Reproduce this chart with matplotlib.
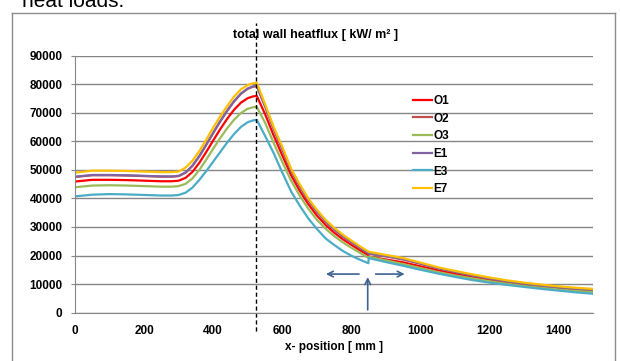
import matplotlib
matplotlib.use("Agg")
import matplotlib.pyplot as plt
from matplotlib.lines import Line2D

plt.rcParams['font.family'] = ['Liberation Sans', 'DejaVu Sans']
plt.rcParams['font.weight'] = 'bold'

# x position [mm]
x_pos = [0, 50, 100, 150, 200, 250, 280, 300, 320, 340, 360, 380, 400, 420, 440, 460, 480, 500, 515, 526,
         550, 575, 600, 625, 650, 675, 700, 725, 750, 775, 800, 825, 849, 850,
         900, 950, 1000, 1050, 1100, 1150, 1200, 1250, 1300, 1350, 1400, 1450, 1500]

# total wall heatflux per case
o1 = [45900, 46500, 46500, 46400, 46200, 46000, 46000, 46200, 47200, 49300, 52500, 56300, 60300, 64200, 67800, 71000, 73500, 75100, 75700, 75900,
      69500, 62000, 55000, 48200, 42700, 38000, 34000, 30700, 28000, 25700, 23700, 21800, 20100, 19600,
      18600, 17600, 16200, 14800, 13600, 12500, 11500, 10600, 9800, 9100, 8500, 8000, 7600]
o2 = [47500, 48100, 48100, 48000, 47800, 47600, 47600, 47800, 49000, 51400, 54800, 58800, 62900, 66900, 70600, 73900, 76600, 78400, 79100, 79300,
      72200, 64300, 57200, 49900, 44300, 39400, 35400, 31900, 29100, 26700, 24600, 22600, 20800, 20600,
      19700, 18600, 17100, 15500, 14200, 13000, 11900, 10900, 10100, 9400, 8800, 8300, 7900]
o3 = [43900, 44500, 44600, 44500, 44300, 44100, 44100, 44300, 45100, 47000, 50000, 53600, 57400, 61100, 64500, 67500, 69900, 71400, 71900, 72100,
      66500, 59400, 52700, 46300, 41000, 36400, 32500, 29400, 26800, 24600, 22700, 20900, 19200, 19600,
      18300, 17000, 15600, 14200, 13000, 12000, 11000, 10100, 9300, 8700, 8100, 7600, 7200]
e1 = [47600, 48200, 48200, 48100, 47900, 47700, 47700, 47900, 49100, 51500, 54900, 58900, 63000, 67000, 70700, 74000, 76700, 78500, 79200, 79400,
      72300, 64400, 57300, 50000, 44400, 39500, 35500, 32000, 29200, 26800, 24700, 22700, 20900, 20700,
      19800, 18700, 17200, 15600, 14300, 13100, 12000, 11000, 10200, 9500, 8900, 8400, 8000]
e3 = [40700, 41300, 41500, 41400, 41200, 41000, 41000, 41200, 42000, 43800, 46500, 49600, 52900, 56200, 59500, 62500, 65000, 66700, 67300, 67500,
      61900, 55800, 49000, 42500, 37500, 33000, 29300, 26000, 23700, 21600, 19900, 18500, 17300, 19100,
      17700, 16400, 15000, 13700, 12500, 11400, 10500, 9700, 9000, 8300, 7700, 7100, 6600]
e7 = [49000, 49700, 49700, 49600, 49400, 49200, 49200, 49400, 50800, 53200, 56600, 60600, 64800, 68700, 72300, 75600, 78200, 79700, 80300, 80500,
      73000, 65000, 58000, 50500, 45000, 40000, 36000, 32500, 29700, 27300, 25200, 23200, 21400, 21300,
      20200, 19100, 17500, 15900, 14600, 13400, 12300, 11300, 10500, 9800, 9200, 8700, 8300]

names = ['O1', 'O2', 'O3', 'E1', 'E3', 'E7']
series = [o1, o2, o3, e1, e3, e7]
colors = ['#FF0000', '#C0504D', '#9BBB59', '#8064A2', '#4BACC6', '#FFC000']

fig = plt.figure(figsize=(6.2, 3.61), dpi=100)
ax = fig.add_axes([0.121, 0.134, 0.836, 0.712])

for name, ys, c in zip(names, series, colors):
    ax.plot(x_pos, ys, color=c, lw=1.6, label=name, solid_joinstyle='round')

ax.set_xlim(0, 1500)
ax.set_ylim(0, 90000)
ax.set_xticks(range(0, 1401, 200))
ax.set_yticks(range(0, 90001, 10000))
ax.yaxis.grid(True, color='#868686', lw=1)
ax.set_axisbelow(True)
for s in ['top', 'right']:
    ax.spines[s].set_visible(False)
for s in ['left', 'bottom']:
    ax.spines[s].set_color('#868686')
ax.tick_params(axis='y', length=3, color='#868686', labelsize=8.5, pad=6)
ax.tick_params(axis='x', length=0, labelsize=8.5, pad=9)
ax.set_xlabel('x- position [ mm ]', fontsize=8.5, fontweight='bold', labelpad=3)

# dashed marker line at the peak
ax.axvline(524, ymin=-0.071, ymax=1.127, color='black', lw=1, ls=(0, (3, 2)), clip_on=False)

# arrows
arrow_kw = dict(arrowstyle='->', color='#3E6391', lw=1.2, mutation_scale=10)
ax.annotate('', xy=(718, 13500), xytext=(830, 13500), arrowprops=arrow_kw)
ax.annotate('', xy=(962, 13500), xytext=(862, 13500), arrowprops=arrow_kw)
ax.annotate('', xy=(847, 13400), xytext=(847, 0), arrowprops=arrow_kw)

ax.legend(loc='upper left', bbox_to_anchor=(0.666, 0.737), bbox_transform=fig.transFigure,
          frameon=False, fontsize=8.5, handlelength=1.6, handletextpad=0.15,
          labelspacing=0.48, borderpad=0, borderaxespad=0)

fig.text(316 / 620, 1 - 35 / 361, 'total wall heatflux [ kW/ m² ]', ha='center', va='center',
         fontsize=9, fontweight='bold')

# surrounding chart frame
fx0, fx1, fy = 12 / 620, 615 / 620, 1 - 13 / 361
frame = dict(color='#8C8C8C', lw=1)
fig.add_artist(Line2D([fx0, fx0], [-0.1, fy], **frame))
fig.add_artist(Line2D([fx1, fx1], [-0.1, fy], **frame))
fig.add_artist(Line2D([fx0, fx1], [fy, fy], **frame))

# caption from the surrounding document, cut off at the top
fig.text(0.035, 1 - 7 / 361, 'heat loads.', fontsize=15, fontweight='normal', va='baseline')

fig.savefig('out.png', dpi=100)
